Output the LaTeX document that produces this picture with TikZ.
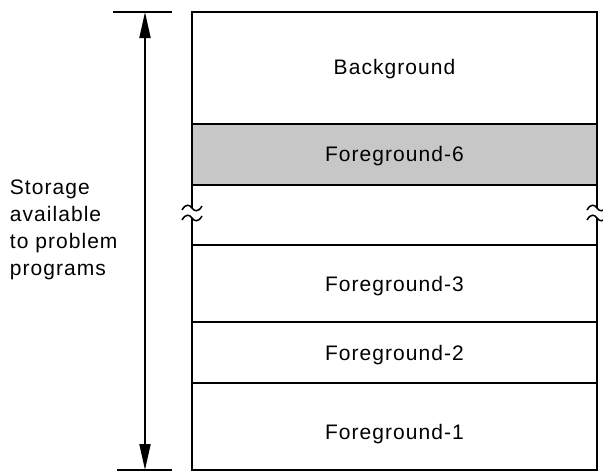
\documentclass[tikz,border=0pt]{standalone}
\usepackage{fontspec}
\setmainfont{Liberation Sans}[LetterSpace=5]
\usetikzlibrary{arrows.meta}

\begin{document}
\begin{tikzpicture}[x=1pt, y=-1pt, line width=1.8pt,
  cell/.style={font=\fontsize{21}{24}\selectfont, inner sep=0pt},
  side/.style={font=\fontsize{21}{27}\selectfont, align=left, inner sep=0pt},
  divider/.style={line width=1.8pt},
  dim/.style={line width=1.8pt, {Triangle[length=26pt,width=11pt]}-{Triangle[length=26pt,width=11pt]}},
  brk/.style={line width=1.5pt}]
\useasboundingbox (0,0) rectangle (603,475);

% shaded partition
\fill[black!22] (192,124) rectangle (597,185);

% outer frame, with the broken sides
\draw (192,208) -- (192,12) -- (597,12) -- (597,208);
\draw (192,218) -- (192,470) -- (597,470) -- (597,218);

% break marks on both sides
\foreach \x in {192,597}{
  \foreach \y in {208,218}{
    \draw[brk] (\x-10,\y+2) .. controls (\x-6,\y-5) and (\x-2,\y-3) .. (\x,\y)
               .. controls (\x+2,\y+3) and (\x+6,\y+5) .. (\x+10,\y-2);
  }
}

% partition dividers
\foreach \y in {124,185,245,322,383}
  \draw[divider] (192,\y) -- (597,\y);

% partition labels
\node[cell] (bg) at (394.5,69) {Background};
\node[cell] (f6) at (394.5,156) {Foreground-6};
\node[cell] (f3) at (394.5,286) {Foreground-3};
\node[cell] (f2) at (394.5,355) {Foreground-2};
\node[cell] (f1) at (394.5,434) {Foreground-1};

% extent of the storage
\coordinate (top) at (145,12);
\coordinate (bot) at (145,470);
\draw (113,12) -- (172,12);
\draw (117,470) -- (172,470);
\draw[dim] (top) -- (bot);

\node[side, anchor=west] (lbl) at (9,230) {Storage\\available\\to problem\\programs};
\end{tikzpicture}
\end{document}
